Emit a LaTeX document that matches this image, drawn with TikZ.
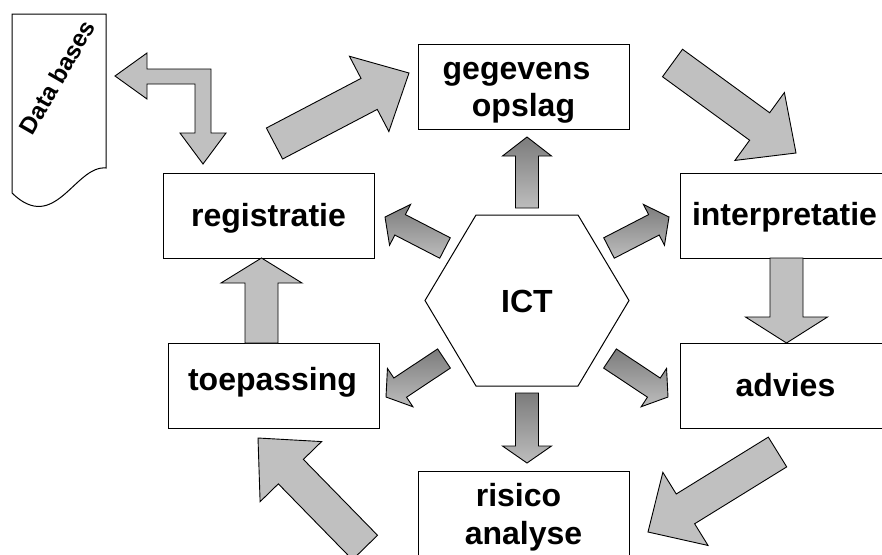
\documentclass[tikz,border=0pt]{standalone}
\usepackage{fontspec}
\setmainfont{Liberation Sans}
\usetikzlibrary{calc}
\definecolor{lightgrey}{HTML}{C0C0C0}
\definecolor{darkgrey}{HTML}{7C7C7C}
\definecolor{midgrey}{HTML}{BDBDBD}
\tikzset{
  box/.style={draw=black, line width=1pt, fill=white, minimum width=211pt, minimum height=85pt, inner sep=0pt},
  txt/.style={inner sep=0pt, anchor=base, font=\bfseries\fontsize{32}{37.5}\selectfont},
  bigarrow/.style={draw=black, line width=0.9pt, fill=lightgrey, line join=miter},
  smallarrow/.style={draw=black, line width=0.9pt, top color=darkgrey, bottom color=midgrey, line join=miter},
  outline/.style={draw=black, line width=1pt, fill=white}
}
% #1 style, #2 tail centre, #3 tip, #4 half shaft width, #5 half head width, #6 head length
\newcommand{\blockarrow}[6]{%
  \coordinate (bahead) at ($(#3)!#6pt!(#2)$);
  \path[#1] ($(#2)!#4pt!90:(#3)$) -- ($(bahead)!#4pt!90:(#3)$) -- ($(bahead)!#5pt!90:(#3)$)
    -- (#3) -- ($(bahead)!#5pt!-90:(#3)$) -- ($(bahead)!#4pt!-90:(#3)$) -- ($(#2)!#4pt!-90:(#3)$) -- cycle;}
\begin{document}
\begin{tikzpicture}[x=1pt, y=-1pt]
\useasboundingbox (0,0) rectangle (882,554);
\clip (0,0) rectangle (882,554);
\fill[white] (0,0) rectangle (882,554);

% document shape "Data bases"
\draw[outline] (12,193) -- (12,14) -- (106,14) -- (106,168) .. controls (75,165) and (55,235) .. (12,193) -- cycle;
\node[rotate=60, font=\bfseries\fontsize{24}{28}\selectfont, inner sep=0pt] (dbtext) at (57,77) {Data bases};

% boxes
\node[box] (geg) at (523.5,87) {};
\node[box] (reg) at (268.5,215.5) {};
\node[box] (toe) at (273.5,385.5) {};
\node[box] (int) at (785.5,215.5) {};
\node[box] (adv) at (785.5,385.5) {};
\node[box] (ris) at (523.5,513.5) {};

% box texts (anchored on their baselines)
\node[txt] (gegA) at ($(geg)+(-7,-8)$) {gegevens};
\node[txt] (gegB) at ($(geg)+(0,29.5)$) {opslag};
\node[txt] (regT) at ($(reg)+(0,10.5)$) {registratie};
\node[txt] (toeT) at ($(toe)+(-1,4.5)$) {toepassing};
\node[txt] (intT) at ($(int)+(-1,9.5)$) {interpretatie};
\node[txt] (advT) at ($(adv)+(0,11)$) {advies};
\node[txt] (risA) at ($(ris)+(-5,-7.5)$) {risico};
\node[txt] (risB) at ($(ris)+(0,30.5)$) {analyse};

% hexagon ICT
\coordinate (hex) at (527,300.5);
\draw[line width=1pt] ($(hex)+(-102,0)$) -- ($(hex)+(-51,-85.5)$) -- ($(hex)+(51,-85.5)$)
  -- ($(hex)+(102,0)$) -- ($(hex)+(51,85.5)$) -- ($(hex)+(-51,85.5)$) -- cycle;
\node[txt] (ict) at ($(hex)+(0,12)$) {ICT};

% bent double arrow between Data bases and registratie
\coordinate (bA) at (115,76);
\coordinate (bB) at (203,164);
\path[bigarrow] (bA) -- (147,53) -- (147,69) -- (211,69) -- (211,133) -- (226,133) -- (bB)
  -- (180,133) -- (195,133) -- (195,84) -- (147,84) -- (147,99) -- cycle;

% big cycle arrows
\coordinate (a1s) at (274.5,143.5); \coordinate (a1e) at (409,73);
\coordinate (a2s) at (672.5,63);    \coordinate (a2e) at (796,153);
\coordinate (a3s) at (786.5,258);   \coordinate (a3e) at (786.5,343);
\coordinate (a4s) at (777.5,452);   \coordinate (a4e) at (648,532);
\coordinate (a5s) at (365,547.5);   \coordinate (a5e) at (258,438);
\coordinate (a6s) at (261.5,343);   \coordinate (a6e) at (261.5,258);
\blockarrow{bigarrow}{a1s}{a1e}{17.5}{42.5}{45}
\blockarrow{bigarrow}{a2s}{a2e}{17}{42}{45}
\blockarrow{bigarrow}{a3s}{a3e}{16.5}{41}{26}
\blockarrow{bigarrow}{a4s}{a4e}{17.5}{43}{44}
\blockarrow{bigarrow}{a5s}{a5e}{17.5}{43}{47}
\blockarrow{bigarrow}{a6s}{a6e}{16.5}{40.5}{25}

% small arrows from ICT
\coordinate (s1s) at (527,208);   \coordinate (s1e) at (527,137);
\coordinate (s2s) at (527,393);   \coordinate (s2e) at (527,463);
\coordinate (s3s) at (445,248);   \coordinate (s3e) at (385,217);
\coordinate (s4s) at (609,248);   \coordinate (s4e) at (669,217);
\coordinate (s5s) at (444,358.5); \coordinate (s5e) at (386,397);
\coordinate (s6s) at (610,358.5); \coordinate (s6e) at (668,397);
\blockarrow{smallarrow}{s1s}{s1e}{11.5}{24.5}{19}
\blockarrow{smallarrow}{s2s}{s2e}{11.5}{24.5}{17}
\blockarrow{smallarrow}{s3s}{s3e}{11.5}{23}{17}
\blockarrow{smallarrow}{s4s}{s4e}{11.5}{23}{17}
\blockarrow{smallarrow}{s5s}{s5e}{11.5}{23}{17}
\blockarrow{smallarrow}{s6s}{s6e}{11.5}{23}{17}
\end{tikzpicture}
\end{document}
